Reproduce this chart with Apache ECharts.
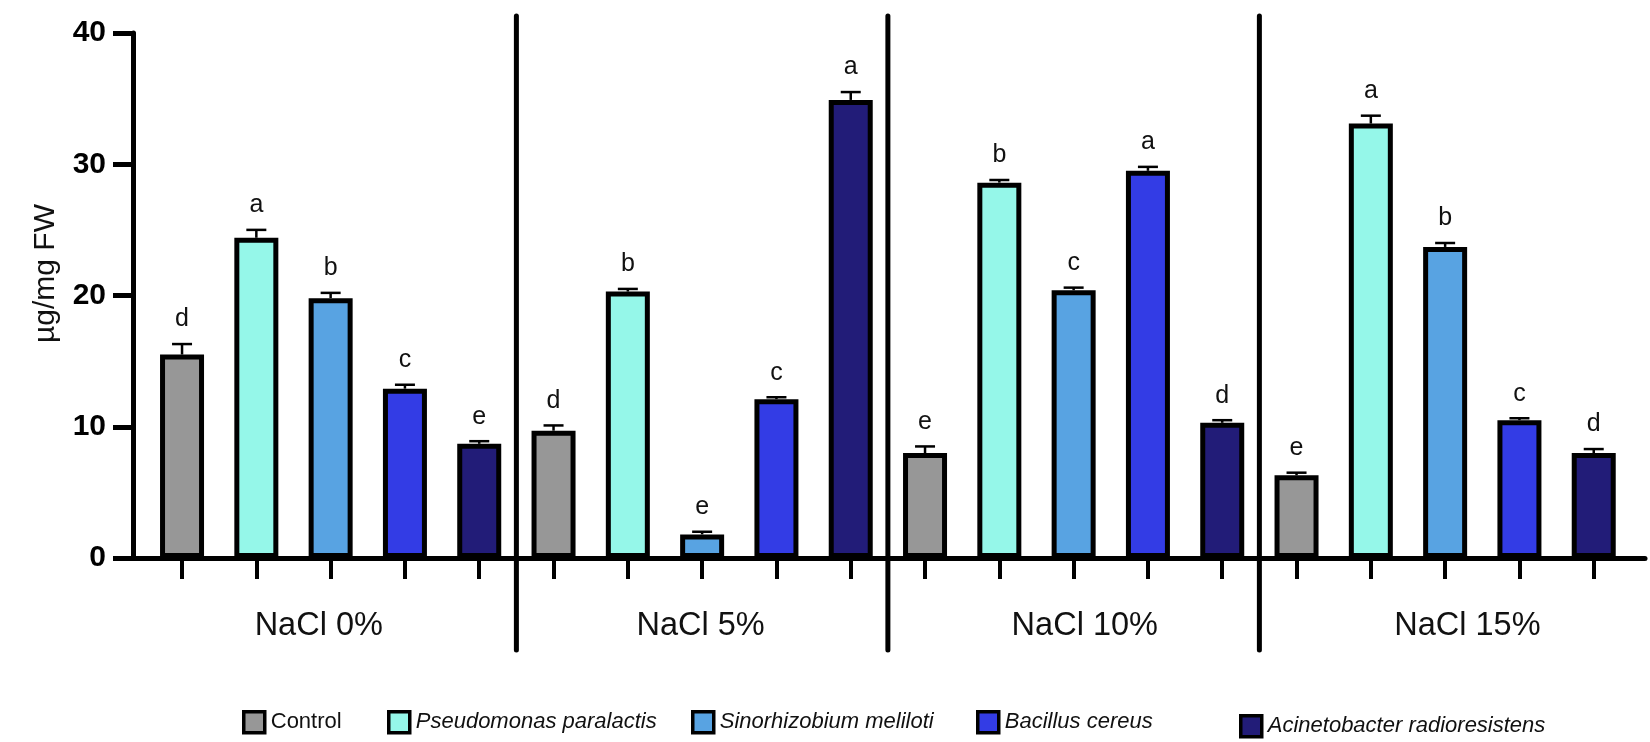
<!DOCTYPE html>
<html>
<head>
<meta charset="utf-8">
<script src="https://cdn.jsdelivr.net/npm/echarts@6/dist/echarts.min.js"></script>
<style>
  html, body { margin: 0; padding: 0; background: #fff; }
  #chart { width: 1650px; height: 742px; }
</style>
</head>
<body>
<div id="chart"></div>
<script>
// groups on the x axis
const groups = ['NaCl 0%', 'NaCl 5%', 'NaCl 10%', 'NaCl 15%'];
const species = ['Control', 'Pseudomonas paralactis', 'Sinorhizobium meliloti', 'Bacillus cereus', 'Acinetobacter radioresistens'];
const colors = ['#979797', '#95f7e9', '#58a3e2', '#333ce5', '#221c78'];

// means per species, one value per NaCl group
const control  = [15.5, 9.7, 8.0, 6.3];
const pseudo   = [24.4, 20.3, 28.6, 33.1];
const sino     = [19.8, 1.8, 20.4, 23.7];
const bacillus = [12.9, 12.1, 29.5, 10.5];
const acineto  = [8.7, 34.9, 10.3, 8.0];

// standard errors
const controlErr  = [0.8, 0.4, 0.5, 0.2];
const pseudoErr   = [0.6, 0.2, 0.2, 0.6];
const sinoErr     = [0.4, 0.2, 0.2, 0.3];
const bacillusErr = [0.3, 0.15, 0.3, 0.15];
const acinetoErr  = [0.2, 0.6, 0.2, 0.3];

// significance letters
const controlLet  = ['d', 'd', 'e', 'e'];
const pseudoLet   = ['a', 'b', 'b', 'a'];
const sinoLet     = ['b', 'e', 'c', 'b'];
const bacillusLet = ['c', 'c', 'a', 'c'];
const acinetoLet  = ['e', 'a', 'd', 'd'];

const yTicks = [0, 10, 20, 30, 40];

const means = [control, pseudo, sino, bacillus, acineto];
const errs = [controlErr, pseudoErr, sinoErr, bacillusErr, acinetoErr];
const lets = [controlLet, pseudoLet, sinoLet, bacillusLet, acinetoLet];
const perGroup = species.length;

// bar slot index along the axis
const slot = (g, s) => g * perGroup + s;

const errData = [];
const letterList = [];
species.forEach((sp, s) => {
  groups.forEach((gr, g) => {
    errData.push([slot(g, s), means[s][g], errs[s][g]]);
    letterList.push(lets[s][g]);
  });
});

const sepData = groups.slice(1).map((gr, g) => [slot(g + 1, 0) - 0.5]);
const slotTicks = [];
groups.forEach((gr, g) => species.forEach((sp, s) => slotTicks.push(slot(g, s))));
// group captions sit a little off the middle bar, drifting right
const labelShift = [1.84, 1.98, 2.15, 2.3];
const groupLabelPos = groups.map((gr, g) => slot(g, 0) + labelShift[g]);

const font = 'Liberation Sans, Arial, sans-serif';

const barSeries = species.map((sp, s) => ({
  name: sp,
  type: 'bar',
  barWidth: 44,
  barGap: '-100%',
  data: groups.map((gr, g) => [slot(g, s), means[s][g]]),
  itemStyle: { color: colors[s], borderColor: '#000', borderWidth: 5 },
  z: 3
}));

const legendLeft = [237, 382, 686, 971, 1234];
const legendTop = [705, 705, 705, 705, 709];
const legends = species.map((sp, s) => ({
  data: [{ name: sp, icon: 'rect' }],
  left: legendLeft[s],
  top: legendTop[s],
  itemWidth: 21,
  itemHeight: 21,
  selectedMode: false,
  itemStyle: { borderWidth: 3.5, borderColor: '#000' },
  textStyle: {
    fontFamily: font,
    fontSize: 22,
    fontStyle: s === 0 ? 'normal' : 'italic',
    color: '#111',
    padding: [0, 0, 0, 1]
  }
}));

const chart = echarts.init(document.getElementById('chart'));
chart.setOption({
  animation: false,
  backgroundColor: '#fff',
  legend: legends,
  grid: { left: 133, right: 5, top: 33, bottom: 184 },
  xAxis: {
    type: 'value',
    min: -0.66,
    max: 19.69,
    splitLine: { show: false },
    axisLine: { show: true, onZero: false, lineStyle: { color: '#000', width: 5 } },
    axisTick: { show: true, customValues: slotTicks, length: 21, lineStyle: { color: '#000', width: 4 } },
    axisLabel: {
      customValues: groupLabelPos,
      formatter: v => groups[Math.floor(v / perGroup)],
      margin: 52,
      fontFamily: font,
      fontSize: 32.5,
      color: '#111'
    }
  },
  yAxis: {
    type: 'value',
    min: yTicks[0],
    max: yTicks[yTicks.length - 1],
    interval: 10,
    name: 'µg/mg FW',
    nameLocation: 'middle',
    nameGap: 72,
    nameTextStyle: { fontFamily: font, fontSize: 30, color: '#111', padding: [0, 0, 0, 44] },
    splitLine: { show: false },
    axisLine: { show: true, onZero: false, lineStyle: { color: '#000', width: 5 } },
    axisTick: { show: true, length: 20, lineStyle: { color: '#000', width: 5 } },
    axisLabel: { margin: 27, fontFamily: font, fontSize: 30, fontWeight: 'bold', color: '#000' }
  },
  series: barSeries.concat([
    {
      type: 'custom',
      name: 'errors',
      z: 2,
      data: errData,
      encode: { x: 0, y: 1 },
      renderItem: (params, api) => {
        const x = api.value(0), v = api.value(1), e = api.value(2);
        const base = api.coord([x, v]);
        const top = api.coord([x, v + e]);
        return {
          type: 'group',
          children: [
            { type: 'line', shape: { x1: base[0], y1: base[1], x2: top[0], y2: top[1] }, style: { stroke: '#000', lineWidth: 2.5 } },
            { type: 'line', shape: { x1: top[0] - 10, y1: top[1], x2: top[0] + 10, y2: top[1] }, style: { stroke: '#000', lineWidth: 2.5 } },
            {
              type: 'text',
              style: {
                x: top[0], y: top[1] - 12,
                text: letterList[params.dataIndex],
                align: 'center', verticalAlign: 'bottom',
                fontFamily: font, fontSize: 25, fill: '#111'
              }
            }
          ]
        };
      }
    },
    {
      type: 'custom',
      name: 'separators',
      z: 4,
      clip: false,
      data: sepData,
      encode: { x: 0 },
      renderItem: (params, api) => {
        const x = api.value(0);
        const p0 = api.coord([x, yTicks[yTicks.length - 1]]);
        const p1 = api.coord([x, yTicks[0]]);
        return {
          type: 'line',
          shape: { x1: p0[0], y1: p0[1] - 17, x2: p1[0], y2: p1[1] + 92 },
          style: { stroke: '#000', lineWidth: 5, lineCap: 'round' }
        };
      }
    }
  ])
});
</script>
</body>
</html>
